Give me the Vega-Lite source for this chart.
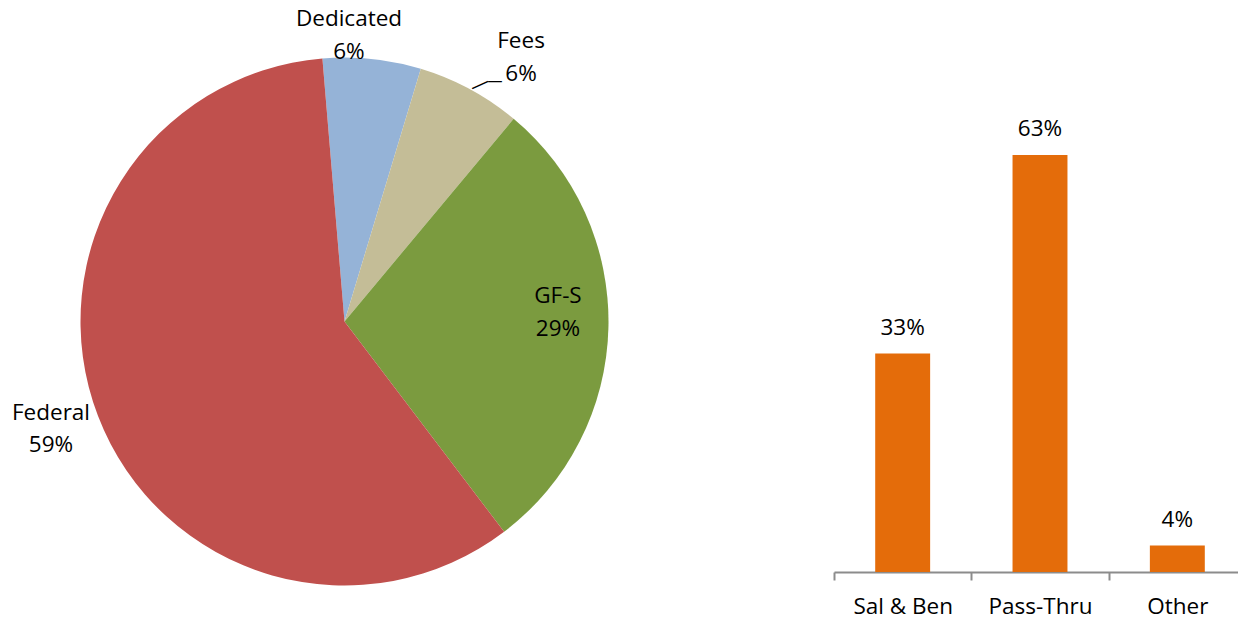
{
  "$schema": "https://vega.github.io/schema/vega-lite/v6.json",
  "padding": {"left": 0, "top": -10, "right": 0, "bottom": 0},
  "background": "white",
  "usermeta": {"embedOptions": {"actions": false}},
  "config": {"view": {"stroke": null}, "font": "Open Sans"},
  "spacing": 145,
  "bounds": "flush",
  "hconcat": [
    {
      "width": 689,
      "height": 643,
      "data": {
        "values": [
          {"category": "Dedicated", "value": 6, "rank": 1, "label": "Dedicated\n6%"},
          {"category": "Fees", "value": 6.4, "rank": 2, "label": "Fees\n6%"},
          {"category": "GF-S", "value": 28.6, "rank": 3, "label": "GF-S\n29%"},
          {"category": "Federal", "value": 59, "rank": 4, "label": "Federal\n59%"}
        ]
      },
      "encoding": {
        "theta": {"field": "value", "type": "quantitative", "stack": true, "scale": {"range": [-0.0838, 6.1994]}},
        "order": {"field": "rank", "type": "quantitative"}
      },
      "layer": [
        {
          "mark": {"type": "arc", "outerRadius": 264},
          "encoding": {
            "color": {
              "field": "category",
              "type": "nominal",
              "scale": {"domain": ["Dedicated", "Fees", "GF-S", "Federal"], "range": ["#95B3D7", "#C4BD97", "#7B9B3F", "#C0504D"]},
              "legend": null
            }
          }
        },
        {
          "mark": {"type": "text", "radius": 287, "dx": -25.5, "dy": -17, "lineBreak": "\n", "lineHeight": 32.5, "font": "Open Sans", "color": "#000000", "align": "center", "baseline": "middle"},
          "encoding": {
            "detail": {"field": "category"},
            "text": {"condition": {"test": "datum.category === 'Dedicated'", "field": "label", "type": "nominal"}, "value": ""},
            "size": {"condition": {"test": "datum.category === 'Dedicated'", "value": 22.5}, "value": 0}
          }
        },
        {
          "mark": {"type": "text", "radius": 318, "dx": 25.7, "dy": -0.5, "lineBreak": "\n", "lineHeight": 32.5, "font": "Open Sans", "color": "#000000", "align": "center", "baseline": "middle"},
          "encoding": {
            "detail": {"field": "category"},
            "text": {"condition": {"test": "datum.category === 'Fees'", "field": "label", "type": "nominal"}, "value": ""},
            "size": {"condition": {"test": "datum.category === 'Fees'", "value": 22.5}, "value": 0}
          }
        },
        {
          "mark": {"type": "text", "radius": 213, "dx": 0.5, "dy": -30, "lineBreak": "\n", "lineHeight": 32.5, "font": "Open Sans", "color": "#000000", "align": "center", "baseline": "middle"},
          "encoding": {
            "detail": {"field": "category"},
            "text": {"condition": {"test": "datum.category === 'GF-S'", "field": "label", "type": "nominal"}, "value": ""},
            "size": {"condition": {"test": "datum.category === 'GF-S'", "value": 22.5}, "value": 0}
          }
        },
        {
          "mark": {"type": "text", "radius": 312, "dx": -2.2, "dy": -20.5, "lineBreak": "\n", "lineHeight": 32.5, "font": "Open Sans", "color": "#000000", "align": "center", "baseline": "middle"},
          "encoding": {
            "detail": {"field": "category"},
            "text": {"condition": {"test": "datum.category === 'Federal'", "field": "label", "type": "nominal"}, "value": ""},
            "size": {"condition": {"test": "datum.category === 'Federal'", "value": 22.5}, "value": 0}
          }
        },
        {
          "mark": {"type": "text", "radius": 270, "angle": -24, "dx": 6.4, "dy": 3.2, "font": "Open Sans", "color": "#000000", "align": "center", "baseline": "middle"},
          "encoding": {
            "detail": {"field": "category"},
            "text": {"condition": {"test": "datum.category === 'Fees'", "value": "—"}, "value": ""},
            "size": {"condition": {"test": "datum.category === 'Fees'", "value": 19}, "value": 0}
          }
        },
        {
          "mark": {"type": "text", "radius": 270, "dx": 22.5, "dy": -3.2, "font": "Open Sans", "color": "#000000", "align": "center", "baseline": "middle"},
          "encoding": {
            "detail": {"field": "category"},
            "text": {"condition": {"test": "datum.category === 'Fees'", "value": "—"}, "value": ""},
            "size": {"condition": {"test": "datum.category === 'Fees'", "value": 15}, "value": 0}
          }
        }
      ]
    },
    {
      "width": 412,
      "height": 572,
      "data": {
        "values": [
          {"item": "Sal & Ben", "share": 0.33},
          {"item": "Pass-Thru", "share": 0.63},
          {"item": "Other", "share": 0.04}
        ]
      },
      "encoding": {
        "x": {
          "field": "item",
          "type": "nominal",
          "sort": null,
          "scale": {"paddingInner": 0.6, "paddingOuter": 0.3},
          "axis": {
            "title": null,
            "labelAngle": 0,
            "labelFontSize": 22.5,
            "labelFont": "Open Sans",
            "labelColor": "#000000",
            "labelBaseline": "alphabetic",
            "labelPadding": 33,
            "tickOffset": -68.67,
            "labelOffset": 68.67,
            "tickSize": 8,
            "tickWidth": 2,
            "tickColor": "#8C8C8C",
            "domainColor": "#8C8C8C",
            "domainWidth": 2,
            "grid": false
          }
        },
        "y": {"field": "share", "type": "quantitative", "scale": {"domain": [0, 0.8642], "nice": false}, "axis": null}
      },
      "layer": [
        {"mark": {"type": "bar", "color": "#E46C0A"}},
        {
          "mark": {"type": "text", "baseline": "alphabetic", "dy": -19, "fontSize": 22.5, "font": "Open Sans", "color": "#000000"},
          "encoding": {"text": {"field": "share", "type": "quantitative", "format": ".0%"}}
        }
      ]
    }
  ]
}
